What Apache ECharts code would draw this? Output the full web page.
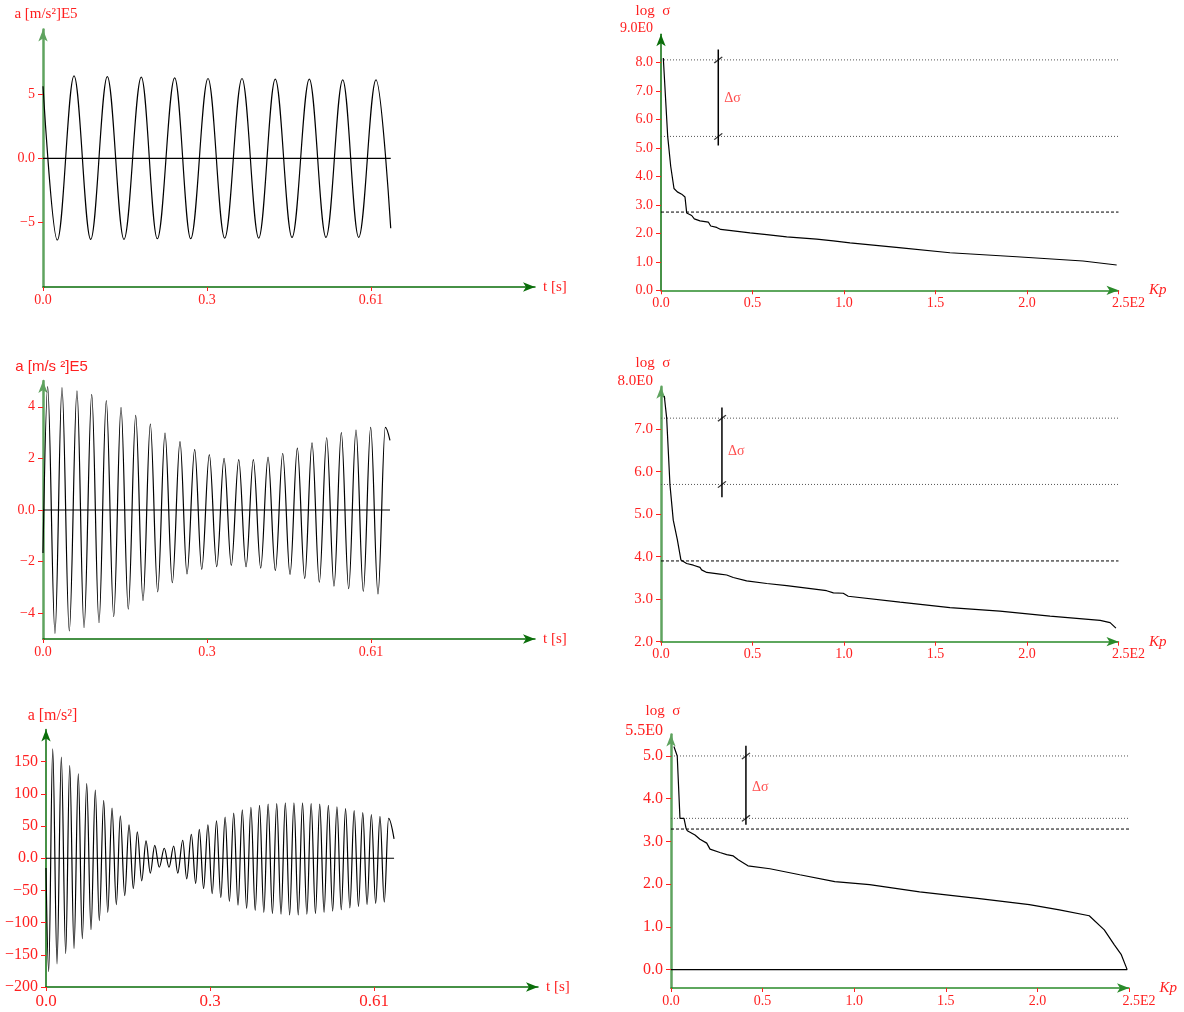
<!DOCTYPE html>
<html>
<head>
<meta charset="utf-8">
<script src="https://cdn.jsdelivr.net/npm/echarts@6/dist/echarts.min.js"></script>
<style>
html, body { margin: 0; padding: 0; background: #fff; }
#chart { width: 1184px; height: 1012px; }
</style>
</head>
<body>
<div id="chart"></div>
<script>
// ---------- time records: turning points (t in s, a in axis units) ----------
const rec1T = [0, 0.0266, 0.0577, 0.0887, 0.1196, 0.1506, 0.1828, 0.2126, 0.2449, 0.2747, 0.3069,
  0.3379, 0.3701, 0.4012, 0.4320, 0.4631, 0.4953, 0.5263, 0.5574, 0.5871, 0.6193, 0.6467];
const rec1A = [5.6, -6.35, 6.4, -6.3, 6.35, -6.3, 6.3, -6.25, 6.25, -6.25, 6.2,
  -6.2, 6.2, -6.2, 6.15, -6.15, 6.15, -6.15, 6.1, -6.15, 6.1, -5.44];

const rec2T = [0, 0.0087, 0.0223, 0.0353, 0.0489, 0.0632, 0.0763, 0.0906, 0.1041, 0.1177, 0.1315,
  0.1451, 0.1586, 0.1724, 0.1860, 0.1996, 0.2133, 0.2269, 0.2405, 0.2548, 0.2678, 0.2821,
  0.2952, 0.3093, 0.3231, 0.3367, 0.3502, 0.3640, 0.3776, 0.3912, 0.4049, 0.4185, 0.4321,
  0.4458, 0.4594, 0.4730, 0.4867, 0.5003, 0.5139, 0.5276, 0.5412, 0.5548, 0.5685, 0.5821,
  0.5957, 0.6094, 0.6230, 0.6366, 0.6453];
const rec2A = [-1.67, 4.78, -4.78, 4.74, -4.69, 4.62, -4.56, 4.48, -4.37, 4.24, -4.13,
  3.98, -3.84, 3.67, -3.51, 3.33, -3.17, 2.98, -2.82, 2.65, -2.48, 2.35,
  -2.3, 2.15, -2.2, 2.0, -2.15, 1.95, -2.2, 1.95, -2.25, 2.05, -2.35,
  2.2, -2.5, 2.4, -2.65, 2.6, -2.8, 2.8, -2.95, 3.0, -3.05, 3.1,
  -3.15, 3.2, -3.25, 3.2, 2.7];

const rec3T = [0, 0.0050, 0.0125, 0.0205, 0.0285, 0.0366, 0.0441, 0.0521, 0.0601, 0.0675, 0.0757,
  0.0837, 0.0917, 0.0991, 0.1073, 0.1148, 0.1228, 0.1308, 0.1382, 0.1464, 0.1544, 0.1624,
  0.1698, 0.1780, 0.1860, 0.1940, 0.2022, 0.2107, 0.2200, 0.2288, 0.2375, 0.2450, 0.2543,
  0.2617, 0.2703, 0.2784, 0.2851, 0.2931, 0.3011, 0.3091, 0.3171, 0.3251, 0.3331, 0.3411,
  0.3491, 0.3571, 0.3651, 0.3731, 0.3811, 0.3891, 0.3971, 0.4051, 0.4131, 0.4211, 0.4291,
  0.4371, 0.4451, 0.4531, 0.4611, 0.4691, 0.4771, 0.4851, 0.4931, 0.5011, 0.5091, 0.5171,
  0.5251, 0.5331, 0.5411, 0.5491, 0.5571, 0.5651, 0.5731, 0.5811, 0.5891, 0.5971, 0.6051,
  0.6131, 0.6211, 0.6291, 0.6371, 0.6473];
const rec3A = [-15, -176, 170, -164, 157, -148, 144, -140, 131, -125, 116,
  -111, 106, -97, 90, -84, 78, -72, 66, -58, 52, -47,
  41, -35, 27, -23, 20, -14, 15.5, -14, 19, -23, 28,
  -32, 37, -39, 45, -47, 52, -55, 58, -61, 64, -67,
  70, -73, 75, -78, 79, -81, 82, -84, 84, -86, 85,
  -87, 86, -88, 86, -88, 86, -87, 85, -86, 84, -84,
  82, -82, 80, -80, 77, -77, 74, -75, 71, -72, 68,
  -70, 65, -68, 62, 30];

// time axis ticks (shared)
const tTicks = [0, 0.305, 0.61];
const tTickLabels = ['0.0', '0.3', '0.61'];

const rec1Ticks = [-5, 0, 5];
const rec1TickLabels = ['\u22125', '0.0', '5'];
const rec2Ticks = [-4, -2, 0, 2, 4];
const rec2TickLabels = ['\u22124', '\u22122', '0.0', '2', '4'];
const rec3Ticks = [-200, -150, -100, -50, 0, 50, 100, 150];
const rec3TickLabels = ['\u2212200', '\u2212150', '\u2212100', '\u221250', '0.0', '50', '100', '150'];

// ---------- stress spectra: log sigma against Kp ----------
const kp1 = [0.0126, 0.0366, 0.0437, 0.0530, 0.0601, 0.0710, 0.0891, 0.1131, 0.1311, 0.1404, 0.1492,
  0.1678, 0.1820, 0.2131, 0.2585, 0.2716, 0.3044, 0.3262, 0.3951, 0.4863, 0.5776, 0.6869,
  0.8508, 0.9415, 1.0328, 1.30, 1.579, 1.944, 2.306, 2.490];
const ls1 = [8.17, 5.41, 5.41, 4.36, 4.32, 3.58, 3.46, 3.38, 3.28, 2.72, 2.68,
  2.63, 2.51, 2.44, 2.40, 2.26, 2.21, 2.14, 2.09, 2.02, 1.96, 1.88,
  1.80, 1.74, 1.67, 1.50, 1.32, 1.18, 1.03, 0.89];

const kp2 = [0.018, 0.031, 0.040, 0.049, 0.058, 0.067, 0.077, 0.089, 0.098, 0.109, 0.140,
  0.177, 0.213, 0.222, 0.250, 0.322, 0.359, 0.395, 0.468, 0.578, 0.687, 0.796,
  0.905, 0.942, 0.996, 1.023, 1.306, 1.579, 1.852, 2.126, 2.40, 2.454, 2.486];
const ls2 = [7.78, 7.26, 7.26, 5.69, 5.66, 4.86, 4.85, 4.41, 4.38, 3.92, 3.84,
  3.80, 3.75, 3.69, 3.63, 3.59, 3.57, 3.51, 3.43, 3.37, 3.32, 3.26,
  3.20, 3.15, 3.14, 3.07, 2.93, 2.80, 2.72, 2.60, 2.50, 2.45, 2.32];

const kp3 = [0.016, 0.034, 0.044, 0.049, 0.071, 0.082, 0.089, 0.131, 0.158, 0.195, 0.213,
  0.267, 0.304, 0.340, 0.367, 0.420, 0.540, 0.703, 0.894, 1.084, 1.357, 1.684,
  1.956, 2.120, 2.283, 2.365, 2.420, 2.458, 2.49];
const ls3 = [5.22, 5.00, 4.98, 3.54, 3.54, 3.31, 3.25, 3.15, 3.05, 2.96, 2.82,
  2.74, 2.69, 2.66, 2.57, 2.43, 2.36, 2.22, 2.06, 1.99, 1.82, 1.66,
  1.52, 1.40, 1.26, 0.93, 0.58, 0.35, 0.0];

// range levels (dotted), mean level (dashed) and the delta-sigma bar [kp, low, high]
const rangeLevels1 = [8.10, 5.41]; const meanLevel1 = 2.75; const dsBar1 = [0.313, 5.09, 8.47];
const rangeLevels2 = [7.26, 5.70]; const meanLevel2 = 3.90; const dsBar2 = [0.333, 5.40, 7.51];
const rangeLevels3 = [5.00, 3.54]; const meanLevel3 = 3.29; const dsBar3 = [0.409, 3.39, 5.24];

const kpTicks = [0, 0.5, 1.0, 1.5, 2.0, 2.5];
const kpTickLabels = ['0.0', '0.5', '1.0', '1.5', '2.0', '2.5E2'];

// ---------- styling ----------
const SERIF = '"Liberation Serif","Times New Roman",Times,serif';
const SANS = '"Liberation Sans",Arial,Helvetica,sans-serif';
const RED = '#ff2020';
const GREEN_DARK = '#0a6e0a';
const GREEN_SOFT = '#5fa35f';

function lookup(ticks, labels, v) {
  for (let i = 0; i < ticks.length; i++) if (Math.abs(ticks[i] - v) < 1e-9) return labels[i];
  return '';
}

const grids = [], xAxes = [], yAxes = [], series = [];

function addAxes(p) {
  const gi = grids.length;
  grids.push({ left: p.left, top: p.top, width: p.width, height: p.height });
  xAxes.push({
    type: 'value', gridIndex: gi, min: p.xMin, max: p.xMax,
    axisLine: { show: true, onZero: false, symbol: ['none', 'arrow'], symbolSize: [7, 12],
      lineStyle: { color: p.xColor, width: 1.5 } },
    axisTick: { show: true, customValues: p.xTicks, length: 4, lineStyle: { color: RED, width: 1 } },
    axisLabel: { customValues: p.xTicks, formatter: v => {
        const s = lookup(p.xTicks, p.xLabels, v);
        return (p.xLastRich && Math.abs(v - p.xTicks[p.xTicks.length - 1]) < 1e-9) ? '{e|' + s + '}' : s;
      },
      color: RED, fontFamily: SERIF, fontSize: p.xfs, margin: 6,
      rich: { e: { color: RED, fontFamily: SERIF, fontSize: p.xfs, padding: [0, 0, 0, 20] } } },
    splitLine: { show: false },
    name: p.xName, nameLocation: 'end', nameGap: p.xNameGap,
    nameTextStyle: { color: RED, fontFamily: SERIF, fontSize: p.xNameSize, fontStyle: p.xNameStyle || 'normal',
      verticalAlign: 'middle', padding: p.xNamePad || 0 }
  });
  yAxes.push({
    type: 'value', gridIndex: gi, min: p.yMin, max: p.yMax,
    axisLine: { show: true, onZero: false, symbol: ['none', 'arrow'], symbolSize: [7, 12],
      lineStyle: { color: p.yColor, width: p.yWidth } },
    axisTick: { show: true, customValues: p.yTicks, length: 5, lineStyle: { color: RED, width: 1 } },
    axisLabel: { customValues: p.yLabelTicks || p.yTicks, formatter: v => {
        const s = lookup(p.yLabelTicks || p.yTicks, p.yLabels, v);
        return (p.yTopLabel && Math.abs(v - p.yMax) < 1e-9) ? '{t|' + s + '}' : s;
      },
      color: RED, fontFamily: p.yFont || SERIF, fontSize: p.yfs, margin: 8,
      rich: { t: { color: RED, fontFamily: SERIF, fontSize: p.yfs, padding: [0, 0, p.yTopLift || 12, 0] } } },
    splitLine: { show: false },
    name: p.yName, nameLocation: 'end', nameGap: p.yNameGap,
    nameTextStyle: { color: RED, fontFamily: p.yNameFont || SERIF, fontSize: p.yNameSize,
      align: 'center', padding: p.yNamePad || 0 }
  });
  return gi;
}

function signalPanel(p, tArr, aArr) {
  const gi = addAxes(p);
  series.push({
    type: 'line', xAxisIndex: gi, yAxisIndex: gi, silent: true,
    data: [[0, 0], [tArr[tArr.length - 1], 0]], symbol: 'none',
    lineStyle: { color: '#000', width: 1.2 }
  });
  series.push({
    type: 'line', xAxisIndex: gi, yAxisIndex: gi, silent: true,
    data: tArr.map((t, i) => [t, aArr[i]]), symbol: 'none',
    smooth: 0.36, smoothMonotone: 'x',
    lineStyle: { color: '#000', width: 1.2 }
  });
}

function spectrumPanel(p, kp, ls, levels, mean, bar, withBase) {
  const gi = addAxes(p);
  const xEnd = p.xMax;
  levels.forEach(lv => series.push({
    type: 'line', xAxisIndex: gi, yAxisIndex: gi, silent: true, symbol: 'none',
    data: [[0, lv], [xEnd, lv]], lineStyle: { color: '#555', width: 1, type: [1, 2] }
  }));
  series.push({
    type: 'line', xAxisIndex: gi, yAxisIndex: gi, silent: true, symbol: 'none',
    data: [[0, mean], [xEnd, mean]], lineStyle: { color: '#000', width: 1, type: [3, 2] }
  });
  if (withBase) {
    series.push({
      type: 'line', xAxisIndex: gi, yAxisIndex: gi, silent: true, symbol: 'none',
      data: [[0, 0], [kp[kp.length - 1], 0]], lineStyle: { color: '#000', width: 1.2 }
    });
  }
  series.push({
    type: 'line', xAxisIndex: gi, yAxisIndex: gi, silent: true, symbol: 'none',
    data: kp.map((k, i) => [k, ls[i]]), lineStyle: { color: '#000', width: 1.2 }
  });
  // delta-sigma bar with slash marks where it crosses the range levels
  series.push({
    type: 'line', xAxisIndex: gi, yAxisIndex: gi, silent: true, symbol: 'none',
    data: [[bar[0], bar[1]], [bar[0], bar[2]]], lineStyle: { color: '#000', width: 1.5 }
  });
  series.push({
    type: 'scatter', xAxisIndex: gi, yAxisIndex: gi, silent: true,
    data: levels.map(lv => [bar[0], lv]),
    symbol: 'path://M0,8 L8,0 L9,1 L1,9 Z', symbolSize: [9, 7],
    itemStyle: { color: '#000' }
  });
  series.push({
    type: 'scatter', xAxisIndex: gi, yAxisIndex: gi, silent: true,
    data: [[bar[0], (levels[0] + levels[1]) / 2]], symbolSize: 0,
    label: { show: true, position: 'right', distance: 6, formatter: '\u0394\u03c3',
      color: RED, fontFamily: SERIF, fontSize: 14 }
  });
}

// left column: acceleration records
const tAxisCommon = { xMin: 0, xMax: 0.915, xTicks: tTicks, xLabels: tTickLabels, xColor: GREEN_DARK,
  xName: 't [s]', xNameGap: 8, xNameSize: 15 };

signalPanel(Object.assign({}, tAxisCommon, {
  left: 43, top: 29.6, width: 492, height: 257.4, xfs: 14,
  yMin: -10, yMax: 10, yTicks: rec1Ticks, yLabels: rec1TickLabels, yfs: 14,
  yColor: GREEN_SOFT, yWidth: 2.5,
  yName: 'a [m/s\u00b2]E5', yNameGap: 8, yNameSize: 15, yNamePad: [0, 0, 0, 6]
}), rec1T, rec1A);

signalPanel(Object.assign({}, tAxisCommon, {
  left: 43, top: 381, width: 492, height: 258, xfs: 14,
  yMin: -5, yMax: 5, yTicks: rec2Ticks, yLabels: rec2TickLabels, yfs: 14,
  yColor: GREEN_SOFT, yWidth: 2.5,
  yName: 'a [m/s \u00b2]E5', yNameFont: SANS, yNameGap: 7, yNameSize: 15, yNamePad: [0, 0, 0, 17]
}), rec2T, rec2A);

signalPanel(Object.assign({}, tAxisCommon, {
  left: 46, top: 729.5, width: 492, height: 257.5, xfs: 17,
  yMin: -200, yMax: 200, yTicks: rec3Ticks, yLabels: rec3TickLabels, yfs: 16,
  yColor: GREEN_DARK, yWidth: 1.5,
  yName: 'a [m/s\u00b2]', yNameGap: 6, yNameSize: 16, yNamePad: [0, 0, 0, 13]
}), rec3T, rec3A);

// right column: stress spectra
const kpAxisCommon = { xMin: 0, xMax: 2.5, xTicks: kpTicks, xLabels: kpTickLabels, xLastRich: true,
  xColor: '#2a8a2a', xName: 'Kp', xNameGap: 29, xNameSize: 15, xNameStyle: 'italic', xfs: 14,
  yName: 'log  \u03c3', yNameSize: 15, yTopLabel: true };

spectrumPanel(Object.assign({}, kpAxisCommon, {
  left: 661, top: 34.3, width: 457.5, height: 256,
  yMin: 0, yMax: 9, yTicks: [0, 1, 2, 3, 4, 5, 6, 7, 8],
  yLabelTicks: [0, 1, 2, 3, 4, 5, 6, 7, 8, 9],
  yLabels: ['0.0', '1.0', '2.0', '3.0', '4.0', '5.0', '6.0', '7.0', '8.0', '9.0E0'], yfs: 14,
  yColor: GREEN_DARK, yWidth: 1.5, yNameGap: 16, yNamePad: [0, 16, 0, 0]
}), kp1, ls1, rangeLevels1, meanLevel1, dsBar1, false);

spectrumPanel(Object.assign({}, kpAxisCommon, {
  left: 661, top: 386.7, width: 457.5, height: 255,
  yMin: 2, yMax: 8, yTicks: [2, 3, 4, 5, 6, 7],
  yLabelTicks: [2, 3, 4, 5, 6, 7, 8],
  yLabels: ['2.0', '3.0', '4.0', '5.0', '6.0', '7.0', '8.0E0'], yfs: 15,
  yColor: GREEN_SOFT, yWidth: 2.5, yNameGap: 16, yNamePad: [0, 16, 0, 0]
}), kp2, ls2, rangeLevels2, meanLevel2, dsBar2, false);

spectrumPanel(Object.assign({}, kpAxisCommon, {
  left: 671, top: 734.6, width: 458, height: 253.4,
  yMin: -0.43, yMax: 5.5, yTicks: [0, 1, 2, 3, 4, 5],
  yLabelTicks: [0, 1, 2, 3, 4, 5, 5.5],
  yLabels: ['0.0', '1.0', '2.0', '3.0', '4.0', '5.0', '5.5E0'], yfs: 16, yTopLift: 8,
  yColor: GREEN_SOFT, yWidth: 2.5, yNameGap: 16, yNamePad: [0, 16, 0, 0]
}), kp3, ls3, rangeLevels3, meanLevel3, dsBar3, true);

const chart = echarts.init(document.getElementById('chart'), null, { renderer: 'canvas' });
chart.setOption({
  animation: false,
  backgroundColor: '#fff',
  grid: grids, xAxis: xAxes, yAxis: yAxes, series: series
});
</script>
</body>
</html>
